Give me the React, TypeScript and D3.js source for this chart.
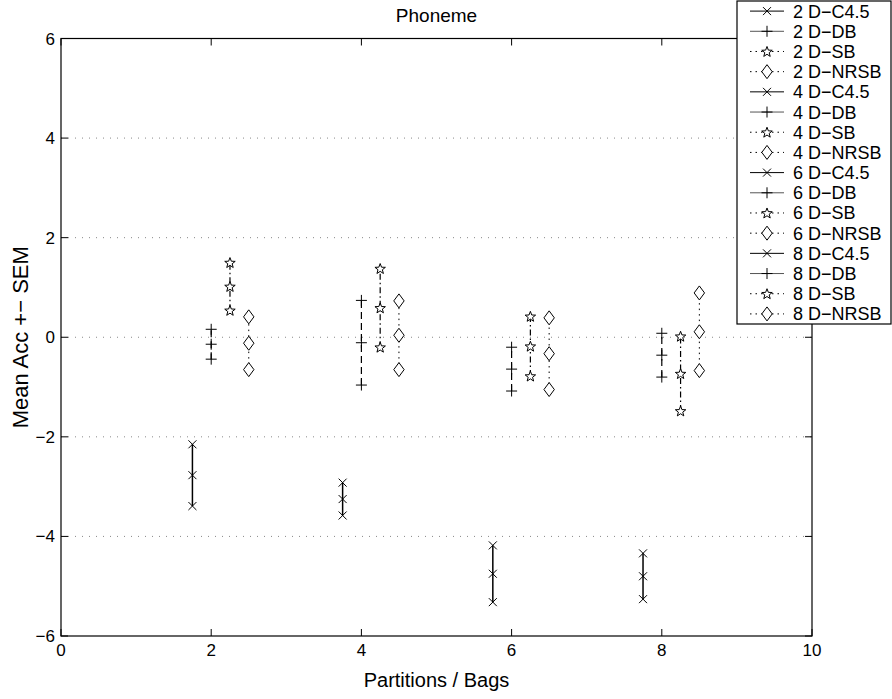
import React from "react";
import * as d3 from "d3";

const partitions = [2, 4, 6, 8];
const methods = ["C4.5", "DB", "SB", "NRSB"];
const methodOffsets = [-0.25, 0, 0.25, 0.5];
const meansC45 = [-2.77, -3.25, -4.75, -4.8];
const semC45 = [0.62, 0.33, 0.57, 0.46];
const meansDB = [-0.14, -0.11, -0.64, -0.36];
const semDB = [0.3, 0.85, 0.44, 0.44];
const meansSB = [1.02, 0.59, -0.18, -0.73];
const semSB = [0.48, 0.79, 0.6, 0.75];
const meansNRSB = [-0.12, 0.04, -0.33, 0.11];
const semNRSB = [0.53, 0.69, 0.72, 0.78];
const xTicks = [0, 2, 4, 6, 8, 10];
const yTicks = [-6, -4, -2, 0, 2, 4, 6];
const title = "Phoneme";
const xLabel = "Partitions / Bags";
const yLabel = "Mean Acc +\u2212 SEM";

const W = 892, H = 699;
const left = 61, right = 812, top = 38.5, bottom = 636;
const FONT = "'Liberation Sans', Arial, Helvetica, sans-serif";

const dashFor: Record<string, string> = {
  "C4.5": "none",
  DB: "7,4",
  SB: "6,3,1.5,3",
  NRSB: "1.5,4",
};
const widthFor: Record<string, number> = { "C4.5": 1.5, DB: 1.2, SB: 1.2, NRSB: 1 };

function Marker({ type, x, y }: { type: string; x: number; y: number }) {
  const s = 4;
  if (type === "C4.5") {
    return (
      <path d={`M${x - s},${y - s}L${x + s},${y + s}M${x - s},${y + s}L${x + s},${y - s}`} stroke="#000" strokeWidth={1} fill="none" />
    );
  }
  if (type === "DB") {
    const r = 5.5;
    return <path d={`M${x - r},${y}L${x + r},${y}M${x},${y - r}L${x},${y + r}`} stroke="#000" strokeWidth={1} fill="none" />;
  }
  if (type === "SB") {
    const pts: string[] = [];
    const R = 5.5, r = 2.3;
    for (let i = 0; i < 10; i++) {
      const a = -Math.PI / 2 + (i * Math.PI) / 5;
      const rr = i % 2 === 0 ? R : r;
      pts.push(`${x + rr * Math.cos(a)},${y + rr * Math.sin(a) + 0.5}`);
    }
    return <polygon points={pts.join(" ")} stroke="#000" strokeWidth={1} fill="#fff" />;
  }
  const w = 5.2, h = 7;
  return <path d={`M${x},${y - h}L${x + w},${y}L${x},${y + h}L${x - w},${y}Z`} stroke="#000" strokeWidth={1} fill="#fff" />;
}

export default function App() {
  const x = d3.scaleLinear().domain([0, 10]).range([left, right]);
  const y = d3.scaleLinear().domain([-6, 6]).range([bottom, top]);
  const meansAll = [meansC45, meansDB, meansSB, meansNRSB];
  const semAll = [semC45, semDB, semSB, semNRSB];
  const lineGen = d3.line<[number, number]>().x((d) => x(d[0])).y((d) => y(d[1]));

  const series: { label: string; method: string; pts: [number, number][] }[] = [];
  partitions.forEach((p, pi) => {
    methods.forEach((m, mi) => {
      const mean = meansAll[mi][pi];
      const sem = semAll[mi][pi];
      const xv = p + methodOffsets[mi];
      series.push({
        label: `${p} D\u2212${m}`,
        method: m,
        pts: [
          [xv, mean - sem],
          [xv, mean],
          [xv, mean + sem],
        ],
      });
    });
  });

  const legLeft = 737, legRight = 891, legTop = 1, legBottom = 324;
  const rowH = (legBottom - legTop) / series.length;

  return (
    <svg width={W} height={H} style={{ position: "absolute", left: 0, top: 0, background: "#fff" }} fontFamily={FONT}>
      <rect x={0} y={0} width={W} height={H} fill="#fff" />
      {yTicks.filter((t) => t > -6 && t < 6).map((t) => (
        <line key={"g" + t} x1={left} x2={right} y1={y(t)} y2={y(t)} stroke="#888" strokeWidth={1} strokeDasharray="1,6" />
      ))}
      <rect x={left} y={top} width={right - left} height={bottom - top} fill="none" stroke="#000" strokeWidth={1.2} />
      {xTicks.map((t) => (
        <g key={"xt" + t}>
          <line x1={x(t)} x2={x(t)} y1={bottom} y2={bottom - 7} stroke="#000" />
          <line x1={x(t)} x2={x(t)} y1={top} y2={top + 7} stroke="#000" />
          <text x={x(t)} y={bottom + 20} textAnchor="middle" fontSize={17}>{t}</text>
        </g>
      ))}
      {yTicks.map((t) => (
        <g key={"yt" + t}>
          <line x1={left} x2={left + 7} y1={y(t)} y2={y(t)} stroke="#000" />
          <line x1={right} x2={right - 7} y1={y(t)} y2={y(t)} stroke="#000" />
          <text x={left - 6} y={y(t) + 6} textAnchor="end" fontSize={17}>{t < 0 ? "\u2212" + Math.abs(t) : t}</text>
        </g>
      ))}
      {series.map((s, i) => (
        <g key={"s" + i}>
          <path d={lineGen(s.pts) || ""} stroke="#000" strokeWidth={widthFor[s.method]} fill="none" strokeDasharray={dashFor[s.method]} />
          {s.pts.map((p, j) => (
            <Marker key={j} type={s.method} x={x(p[0])} y={y(p[1])} />
          ))}
        </g>
      ))}
      <text x={(left + right) / 2} y={22} textAnchor="middle" fontSize={19}>{title}</text>
      <text x={(left + right) / 2} y={687} textAnchor="middle" fontSize={20}>{xLabel}</text>
      <text transform={`translate(28,${(top + bottom) / 2}) rotate(-90)`} textAnchor="middle" fontSize={22}>{yLabel}</text>
      <g>
        <rect x={legLeft} y={legTop} width={legRight - legLeft} height={legBottom - legTop} fill="#fff" stroke="#000" strokeWidth={1.2} />
        {series.map((s, i) => {
          const cy = legTop + rowH * (i + 0.5);
          const solid = s.method === "C4.5" || s.method === "DB";
          return (
            <g key={"l" + i}>
              <line x1={750} x2={784} y1={cy} y2={cy} stroke={s.method === "DB" ? "#555" : "#000"} strokeWidth={1} strokeDasharray={solid ? "none" : "1.5,4"} />
              <Marker type={s.method} x={767} y={cy} />
              <text x={793} y={cy + 6.5} fontSize={18}>{s.label}</text>
            </g>
          );
        })}
      </g>
    </svg>
  );
}
